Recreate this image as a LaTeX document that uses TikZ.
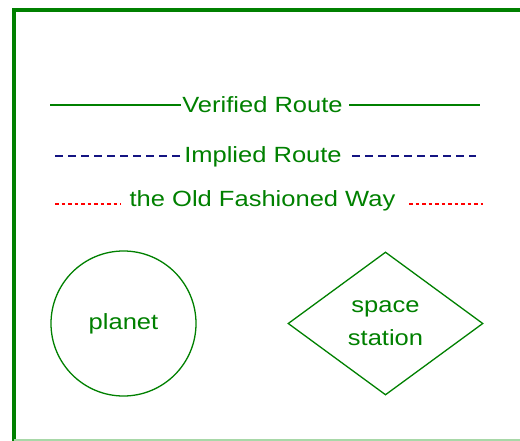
\documentclass[tikz,border=0pt]{standalone}
\usepackage{fontspec}
\usepackage{graphicx}
\setmainfont{Liberation Sans}
\usetikzlibrary{shapes.geometric}
\definecolor{fgreen}{RGB}{0,128,0}
\definecolor{lgreen}{RGB}{168,216,168}
\definecolor{navyb}{RGB}{20,20,130}
\definecolor{redl}{RGB}{255,0,0}
\newcommand\widetxt[1]{\scalebox{1.16}[1]{#1}}
\begin{document}
\begin{tikzpicture}[x=1pt,y=-1pt,
  lbl/.style={inner sep=0pt,anchor=base,text=fgreen,font=\fontsize{22}{33}\selectfont},
  verline/.style={draw=fgreen,line width=1.5pt},
  impline/.style={draw=navyb,line width=1.5pt,dash pattern=on 8pt off 5pt},
  oldline/.style={draw=redl,line width=1.2pt,dash pattern=on 3.5pt off 3pt},
  shapeline/.style={draw=fgreen,line width=1.3pt,text=fgreen,font=\fontsize{22}{33}\selectfont}
]
\useasboundingbox (0,0) rectangle (520,441);
% frame
\coordinate (fbl) at (14,441);
\coordinate (ftl) at (14,10);
\coordinate (ftr) at (520,10);
\coordinate (bl) at (14,440);
\coordinate (br) at (520,440);
\draw[fgreen,line width=3.5pt] (fbl) -- (ftl) -- (ftr);
\draw[lgreen,line width=1.5pt] (bl) -- (br);

% legend texts
\node[lbl] (vt) at (262.5,113) {\widetxt{Verified Route}};
\node[lbl] (it) at (263,163) {\widetxt{Implied Route}};
\node[lbl] (ot) at (262.5,207) {\widetxt{the Old Fashioned Way}};

% legend lines
\coordinate (v1) at (50,105);
\coordinate (v2) at (181,105);
\coordinate (v3) at (349,105);
\coordinate (v4) at (480,105);
\draw[verline] (v1) -- (v2);
\draw[verline] (v3) -- (v4);

\coordinate (i1) at (55,156);
\coordinate (i2) at (184,156);
\coordinate (i3) at (352,156);
\coordinate (i4) at (476,156);
\draw[impline] (i1) -- (i2);
\draw[impline] (i3) -- (i4);

\coordinate (o1) at (55,204);
\coordinate (o2) at (121,204);
\coordinate (o3) at (409,204);
\coordinate (o4) at (483,204);
\draw[oldline] (o1) -- (o2);
\draw[oldline] (o3) -- (o4);

% shapes
\node[shapeline,circle,minimum size=145pt,inner sep=0pt] (planet) at (123.5,323.5) {\widetxt{planet}};
\node[shapeline,diamond,minimum width=195pt,minimum height=143pt,inner sep=0pt,align=center] (station) at (385.5,323.5) {\widetxt{space}\\\widetxt{station}};
\end{tikzpicture}
\end{document}
